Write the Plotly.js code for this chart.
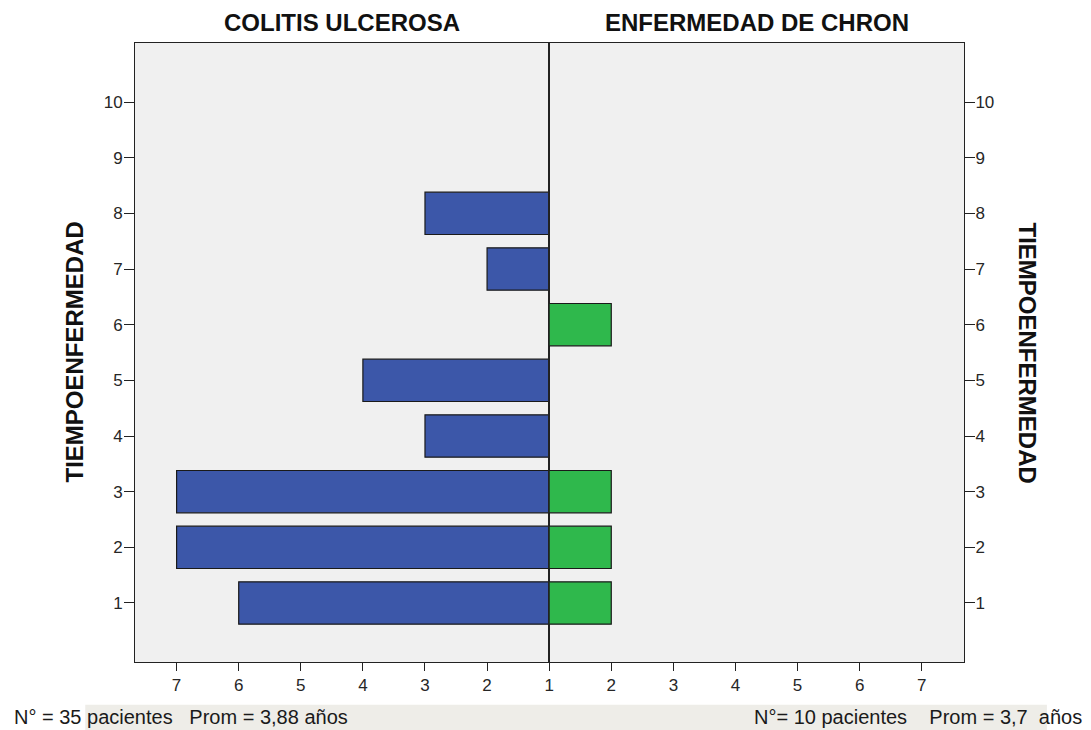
<!DOCTYPE html>
<html>
<head>
<meta charset="utf-8">
<script src="https://cdn.plot.ly/plotly-3.0.1.min.js"></script>
<style>
  html, body { margin: 0; padding: 0; background: #ffffff; }
  #chart { width: 1091px; height: 730px; }
</style>
</head>
<body>
<div id="chart"></div>
<script>
// ---- data ----
const tiempo = [1, 2, 3, 4, 5, 6, 7, 8, 9, 10];
// bar end values as read on the axes (null = no bar)
const colitisValues = [6, 7, 7, 3, 4, null, 2, 3, null, null];
const chronValues   = [2, 2, 2, null, null, 2, null, null, null, null];
const leftTicks  = [1, 2, 3, 4, 5, 6, 7];
const rightTicks = [2, 3, 4, 5, 6, 7];
const yTicks = [1, 2, 3, 4, 5, 6, 7, 8, 9, 10];
const panelTitles = ["COLITIS ULCEROSA", "ENFERMEDAD DE CHRON"];
const yTitle = "TIEMPOENFERMEDAD";
const footLeft  = "N° = 35 pacientes\u00A0\u00A0\u00A0Prom = 3,88 años";
const footRight = "N°= 10 pacientes\u00A0\u00A0\u00A0\u00A0Prom = 3,7\u00A0\u00A0años";
const axisOrigin = 1;

// ---- styles ----
const FONT = "Arial, 'Liberation Sans', Helvetica, sans-serif";
const LINE = "#222222";
const BLUE = "#3c57a9";
const GREEN = "#2fb84c";

function lengths(arr) { return arr.map(v => v == null ? null : v - axisOrigin); }

const traces = [
  {
    type: "bar", orientation: "h",
    y: tiempo, x: lengths(colitisValues), base: axisOrigin,
    width: 0.76,
    marker: { color: BLUE, line: { color: "#1a1a1a", width: 1.2 } },
    xaxis: "x", yaxis: "y", hoverinfo: "skip"
  },
  {
    type: "bar", orientation: "h",
    y: tiempo, x: lengths(chronValues), base: axisOrigin,
    width: 0.76,
    marker: { color: GREEN, line: { color: "#1a1a1a", width: 1.2 } },
    xaxis: "x2", yaxis: "y2", hoverinfo: "skip"
  }
];

const split = 0.4996;
const baseAxis = {
  showline: true, linecolor: LINE, linewidth: 1, mirror: true,
  ticks: "outside", tickcolor: LINE, tickwidth: 1,
  showgrid: false, zeroline: false, fixedrange: true,
  tickfont: { family: FONT, size: 17, color: "#262626" }
};

const layout = {
  width: 1091, height: 730,
  margin: { l: 135, r: 126.7, t: 43, b: 68.3, pad: 0 },
  paper_bgcolor: "#ffffff",
  plot_bgcolor: "#f0f0f0",
  showlegend: false,
  font: { family: FONT, color: "#1a1a1a" },
  xaxis: Object.assign({}, baseAxis, {
    domain: [0, split], range: [7.67, 1], tickvals: leftTicks, ticklen: 8, anchor: "y"
  }),
  xaxis2: Object.assign({}, baseAxis, {
    domain: [split, 1], range: [1, 7.68], tickvals: rightTicks, ticklen: 8, anchor: "y2"
  }),
  yaxis: Object.assign({}, baseAxis, {
    domain: [0, 1], range: [-0.06, 11.06], tickvals: yTicks, ticklen: 10, anchor: "x", side: "left",
    ticklabelstandoff: -2
  }),
  yaxis2: Object.assign({}, baseAxis, {
    domain: [0, 1], range: [-0.06, 11.06], tickvals: yTicks, ticklen: 10, anchor: "x2", side: "right",
    ticklabelstandoff: -3
  }),
  shapes: [
    { type: "rect", xref: "paper", yref: "paper", layer: "below",
      x0: -0.06, x1: 1.10, y0: -0.069, y1: -0.112,
      fillcolor: "#eeede8", line: { width: 0 } }
  ],
  annotations: [
    { text: panelTitles[0], xref: "paper", yref: "paper", x: split / 2, y: 1,
      xanchor: "center", yanchor: "middle", yshift: 21, showarrow: false,
      font: { family: FONT, size: 24, color: "#111111", weight: "bold" } },
    { text: panelTitles[1], xref: "paper", yref: "paper", x: (1 + split) / 2, y: 1,
      xanchor: "center", yanchor: "middle", yshift: 21, showarrow: false,
      font: { family: FONT, size: 24, color: "#111111", weight: "bold" } },
    { text: yTitle, xref: "paper", yref: "paper", x: 0, y: 0.5, textangle: -90,
      xanchor: "center", yanchor: "middle", xshift: -61, showarrow: false,
      font: { family: FONT, size: 24, color: "#111111", weight: "bold" } },
    { text: yTitle, xref: "paper", yref: "paper", x: 1, y: 0.5, textangle: 90,
      xanchor: "center", yanchor: "middle", xshift: 63, showarrow: false,
      font: { family: FONT, size: 24, color: "#111111", weight: "bold" } },
    { text: footLeft, xref: "paper", yref: "paper", x: -0.1483, y: -0.0894,
      xanchor: "left", yanchor: "middle", showarrow: false,
      font: { family: FONT, size: 20, color: "#1a1a1a" } },
    { text: footRight, xref: "paper", yref: "paper", x: 1.1443, y: -0.0894,
      xanchor: "right", yanchor: "middle", showarrow: false,
      font: { family: FONT, size: 20, color: "#1a1a1a" } }
  ]
};

Plotly.newPlot("chart", traces, layout, { displayModeBar: false, staticPlot: true });
</script>
</body>
</html>
